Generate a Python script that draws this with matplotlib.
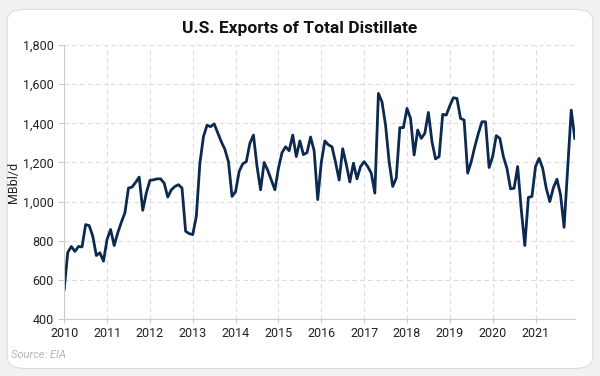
import matplotlib.pyplot as plt
from matplotlib.patches import FancyBboxPatch
from matplotlib.ticker import FuncFormatter

# Monthly exports, Jan 2010 - Dec 2021 (MBbl/d)
exports = [
    550, 740, 770, 745, 770, 768, 882, 877, 823, 724, 738, 695,          # 2010
    806, 857, 775, 840, 894, 942, 1069, 1074, 1098, 1125, 955, 1044,     # 2011
    1108, 1111, 1116, 1116, 1094, 1023, 1060, 1077, 1086, 1069, 848, 836,  # 2012
    831, 924, 1196, 1332, 1390, 1383, 1397, 1352, 1306, 1267, 1204, 1026,  # 2013
    1051, 1154, 1193, 1204, 1298, 1340, 1180, 1060, 1200, 1160, 1110, 1060,  # 2014
    1170, 1250, 1280, 1260, 1340, 1230, 1310, 1240, 1250, 1330, 1260, 1010,  # 2015
    1200, 1310, 1290, 1280, 1200, 1110, 1270, 1190, 1100, 1196, 1116, 1179,  # 2016
    1204, 1179, 1145, 1043, 1553, 1510, 1391, 1204, 1077, 1120, 1378, 1378,  # 2017
    1476, 1425, 1238, 1366, 1323, 1349, 1456, 1306, 1218, 1230, 1446, 1442,  # 2018
    1490, 1531, 1527, 1425, 1417, 1145, 1204, 1281, 1349, 1408, 1408, 1174,  # 2019
    1230, 1337, 1323, 1230, 1170, 1065, 1068, 1179, 960, 775, 1021, 1026,    # 2020
    1179, 1221, 1170, 1068, 1000, 1070, 1114, 1035, 868, 1170, 1468, 1323,   # 2021
]
months = list(range(len(exports)))
years = [str(y) for y in range(2010, 2022)]
year_ticks = [12 * i for i in range(len(years))]
y_ticks = [400, 600, 800, 1000, 1200, 1400, 1600, 1800]

plt.rcParams['font.family'] = ['Roboto', 'DejaVu Sans']

fig = plt.figure(figsize=(6, 3.76), dpi=100)
fig.patch.set_facecolor('#f1f1f1')

# white rounded card behind the chart
card = FancyBboxPatch((0.012, 0.02), 0.976, 0.955,
                      boxstyle='round,pad=0,rounding_size=0.03',
                      transform=fig.transFigure, facecolor='white',
                      edgecolor='#dddddd', linewidth=0.8, zorder=-10)
fig.patches.append(card)

ax = fig.add_axes([0.107, 0.152, 0.851, 0.728])
ax.set_facecolor('none')
ax.set_zorder(5)

ax.plot(months, exports, color='#0c2a50', linewidth=2.0)

ax.set_xlim(0, 143)
ax.set_ylim(400, 1800)
ax.set_xticks(year_ticks)
ax.set_xticklabels(years)
ax.set_yticks(y_ticks)
ax.yaxis.set_major_formatter(FuncFormatter(lambda v, p: f'{int(v):,}'))

ax.grid(True, color='#dcdcdc', linestyle=(0, (4, 3)), linewidth=0.8)
ax.set_axisbelow(True)
for s in ['top', 'right']:
    ax.spines[s].set_visible(False)
for s in ['left', 'bottom']:
    ax.spines[s].set_color('#cccccc')
    ax.spines[s].set_linewidth(0.8)
ax.tick_params(axis='both', colors='#cccccc', labelcolor='#222222',
               labelsize=9, length=4, width=0.8)
ax.tick_params(axis='x', length=3, pad=3)

ax.set_ylabel('MBbl/d', fontsize=9, color='#222222', labelpad=2)
fig.text(0.5, 0.925, 'U.S. Exports of Total Distillate', ha='center',
         va='center', fontsize=12.5, fontweight='bold', color='#111111')
fig.text(0.018, 0.055, 'Source: EIA', fontsize=8, style='italic',
         color='#b5b5b5', ha='left', va='center')

fig.savefig('out.png', dpi=100, facecolor=fig.get_facecolor())
